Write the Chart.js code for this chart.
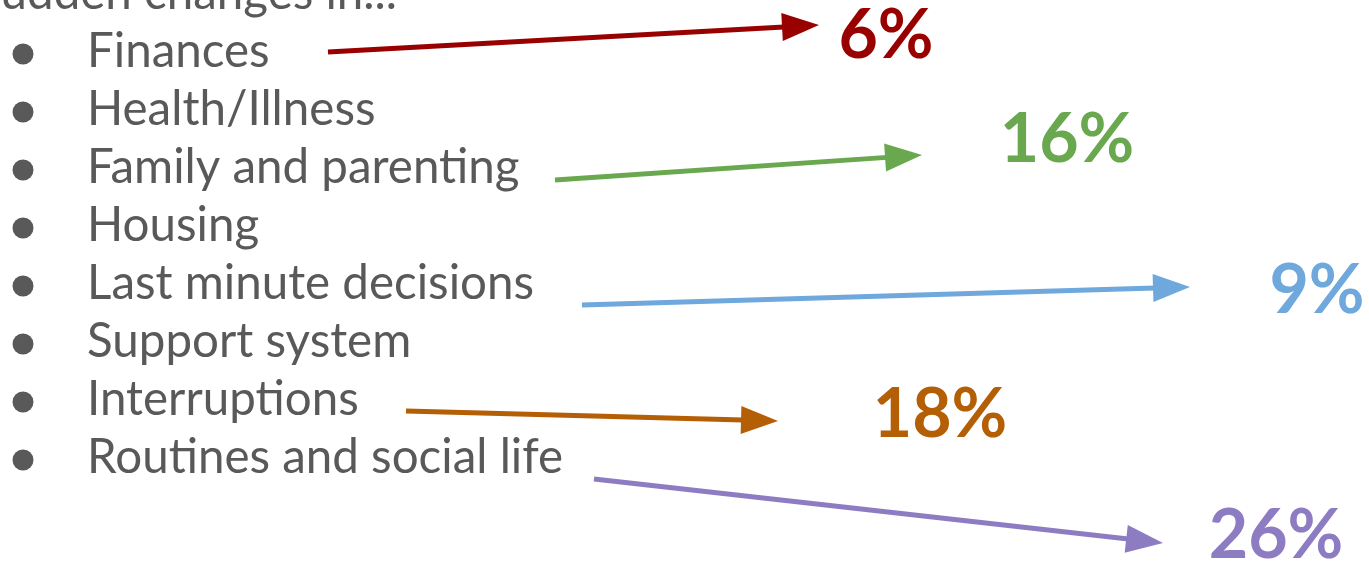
<!DOCTYPE html>
<html>
<head>
<meta charset="utf-8">
<script src="https://cdn.jsdelivr.net/npm/chart.js@4"></script>
<style>
  html, body { margin: 0; padding: 0; background: #fff; }
  #wrap { width: 1369px; height: 563px; }
</style>
</head>
<body>
<div id="wrap"><canvas id="slideChart"></canvas></div>
<script>
// data
var title = 'Sudden changes in...';
var categories = ['Finances', 'Health/Illness', 'Family and parenting', 'Housing',
                  'Last minute decisions', 'Support system', 'Interruptions', 'Routines and social life'];
var highlighted = ['Finances', 'Family and parenting', 'Last minute decisions', 'Interruptions', 'Routines and social life'];
var percents = [6, 16, 9, 18, 26];
var colors = ['#990000', '#6aa84f', '#6fa8dc', '#b45f06', '#8e7cc3'];

// layout (slide units, same as pixels)
var arrowFrom = [[328, 52], [555, 180], [582, 305], [406, 411], [594, 479]];
var arrowTo = [[819, 25], [922, 155], [1190, 287], [778, 421], [1163, 543]];
var labelAt = [[886, 58], [1067, 162], [1317, 313], [940, 437], [1276, 558]];
var headLen = 37, headHalf = 14;

function arrowBase(i) {
    var a = arrowFrom[i], b = arrowTo[i];
    var dx = b[0] - a[0], dy = b[1] - a[1];
    var len = Math.sqrt(dx * dx + dy * dy);
    return { x: b[0] - dx / len * (headLen - 2), y: b[1] - dy / len * (headLen - 2) };
}

var datasets = highlighted.map(function (name, i) {
    return {
        label: name,
        data: [{ x: arrowFrom[i][0], y: arrowFrom[i][1] }, arrowBase(i)],
        showLine: true,
        borderColor: colors[i],
        backgroundColor: colors[i],
        borderWidth: 5,
        pointRadius: 0,
        pointHoverRadius: 0
    };
});

var slidePlugin = {
    id: 'slide',
    afterDatasetsDraw: function (chart) {
        var c = chart.ctx, xs = chart.scales.x, ys = chart.scales.y;
        c.save();
        // list
        c.fillStyle = '#595959';
        c.font = '47.5px Lato';
        c.textBaseline = 'alphabetic';
        c.textAlign = 'right';
        c.fillText(title, xs.getPixelForValue(397), ys.getPixelForValue(9));
        c.textAlign = 'left';
        categories.forEach(function (name, i) {
            var base = 67 + i * 58;
            c.beginPath();
            c.arc(xs.getPixelForValue(23), ys.getPixelForValue(base - 13), 10.5, 0, Math.PI * 2);
            c.fill();
            c.fillText(name, xs.getPixelForValue(87), ys.getPixelForValue(base));
        });
        // arrowheads and percentages
        highlighted.forEach(function (name, i) {
            var ax = xs.getPixelForValue(arrowFrom[i][0]), ay = ys.getPixelForValue(arrowFrom[i][1]);
            var tx = xs.getPixelForValue(arrowTo[i][0]), ty = ys.getPixelForValue(arrowTo[i][1]);
            var ang = Math.atan2(ty - ay, tx - ax);
            c.save();
            c.translate(tx, ty);
            c.rotate(ang);
            c.fillStyle = colors[i];
            c.beginPath();
            c.moveTo(0, 0);
            c.lineTo(-headLen, -headHalf);
            c.lineTo(-headLen, headHalf);
            c.closePath();
            c.fill();
            c.restore();

            c.fillStyle = colors[i];
            c.font = 'bold 68px Lato';
            c.textAlign = 'center';
            c.fillText(percents[i] + '%', xs.getPixelForValue(labelAt[i][0]), ys.getPixelForValue(labelAt[i][1]));
        });
        c.restore();
    }
};

var ctx = document.getElementById('slideChart');
var myChart = new Chart(ctx, {
    type: 'scatter',
    data: { datasets: datasets },
    options: {
        responsive: true,
        maintainAspectRatio: false,
        animation: false,
        layout: { padding: 0 },
        plugins: { legend: { display: false }, tooltip: { enabled: false } },
        scales: {
            x: { type: 'linear', min: 0, max: 1369, display: false },
            y: { type: 'linear', min: 0, max: 563, reverse: true, display: false }
        }
    },
    plugins: [slidePlugin]
});
</script>
</body>
</html>
